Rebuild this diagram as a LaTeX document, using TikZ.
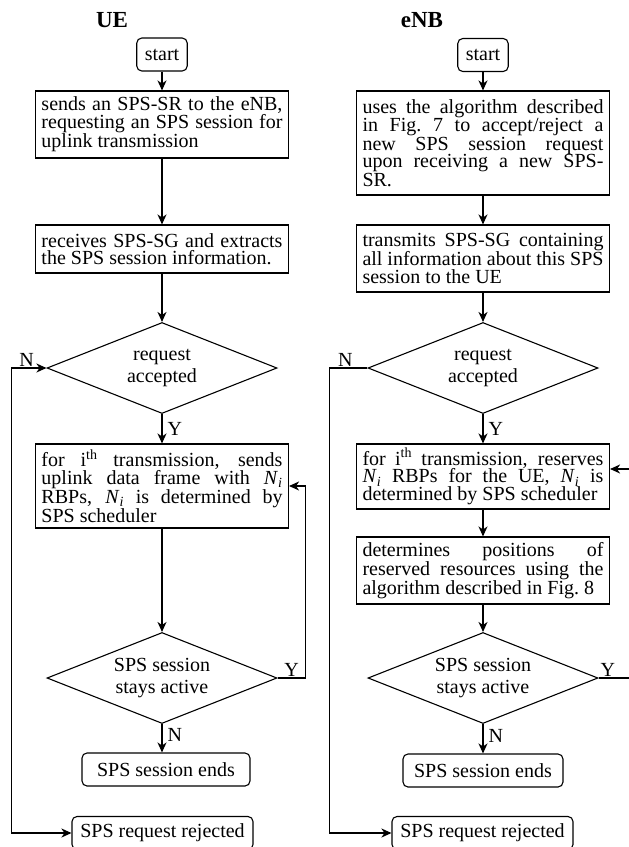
\documentclass[tikz,border=0pt]{standalone}
\usepackage{fontspec}
\setmainfont{Liberation Serif}
\usepackage{tikz}
\usetikzlibrary{arrows.meta,shapes}
\setlength{\lineskiplimit}{-20pt}
\newcommand{\Ni}{\textit{N}\textsubscript{\textit{i}}}

\begin{document}
\begin{tikzpicture}[x=1pt,y=1pt,>={Stealth[length=10pt,width=9pt,inset=3pt]},line width=1.3pt,
procbox/.style={draw,line width=1.1pt,text width=241pt,inner xsep=6pt,inner ysep=0pt,align=justify,font=\fontsize{20}{17.5}\selectfont},
decision/.style={draw,diamond,line width=1.1pt,aspect=2.5,inner sep=0pt,minimum width=230pt,minimum height=91pt,align=center,font=\fontsize{20}{22}\selectfont},
terminal/.style={draw,line width=1.1pt,rounded corners=5pt,minimum height=33pt,inner xsep=8pt,font=\fontsize{20}{22}\selectfont},
lab/.style={inner sep=1pt,font=\fontsize{20}{22}\selectfont},
ttl/.style={font=\fontsize{23}{26}\selectfont\bfseries}]
\useasboundingbox (0,0) rectangle (629,-847);
\node[ttl](ttlU) at (112,-20){UE};
\node[ttl](ttlE) at (422,-20){eNB};

\node[terminal](startU) at (162,-54.5){start};
\node[procbox,minimum height=67pt](sendU) at (162,-124.5){sends an SPS-SR to the eNB,\linebreak requesting an SPS session for\linebreak uplink transmission};
\node[procbox,minimum height=48pt](recvU) at (162,-249){receives SPS-SG and extracts\linebreak the SPS session information.};
\node[decision](accU) at (162,-368){request\\accepted};
\node[procbox,minimum height=84pt](dataU) at (162,-486){for i\textsuperscript{th} transmission, sends\linebreak uplink data frame with \Ni\linebreak RBPs, \Ni{} is determined by\linebreak SPS scheduler};
\node[decision](actU) at (162,-678){SPS session\\stays active};
\node[terminal,minimum width=168pt](endU) at (166,-769.5){SPS session ends};
\node[terminal,minimum width=181pt](rejU) at (162.5,-833){SPS request rejected};

\node[terminal](startE) at (483,-55){start};
\node[procbox,minimum height=104pt](algoE) at (483,-143){uses the algorithm described\linebreak in Fig.\ 7 to accept/reject a\linebreak new SPS session request\linebreak upon receiving a new SPS-\linebreak SR.};
\node[procbox,minimum height=67pt](grantE) at (483,-258.5){transmits SPS-SG containing\linebreak all information about this SPS\linebreak session to the UE};
\node[decision](accE) at (483,-368){request\\accepted};
\node[procbox,minimum height=65pt](resvE) at (483,-476.5){for i\textsuperscript{th} transmission, reserves\linebreak \Ni{} RBPs for the UE, \Ni{} is\linebreak determined by SPS scheduler};
\node[procbox,minimum height=67pt](posE) at (483,-570.5){determines positions of\linebreak reserved resources using the\linebreak algorithm described in Fig.\ 8};
\node[decision](actE) at (483,-678){SPS session\\stays active};
\node[terminal,minimum width=160pt](endE) at (483,-770.5){SPS session ends};
\node[terminal,minimum width=181pt](rejE) at (482.5,-833){SPS request rejected};

\draw[->](startU)--(sendU);
\draw[->](sendU)--(recvU);
\draw[->](recvU)--(accU);
\draw[->](accU)--node[lab,right=4pt](yU1){Y}(dataU);
\draw[->](dataU)--(actU);
\draw[->](actU.south)--node[lab,right=4pt,pos=.4](nU2){N}(actU.south|-endU.north);
\draw[<->](accU.west)--++(-35,0)node[lab,pos=.57,above](nU1){N}|-(rejU.west);
\draw[->](actU.east)--++(28,0)node[lab,midway,above](yU2){Y}|-(dataU.east);

\draw[->](startE)--(algoE);
\draw[->](algoE)--(grantE);
\draw[->](grantE)--(accE);
\draw[->](accE)--node[lab,right=4pt](yE1){Y}(resvE);
\draw[->](resvE)--(posE);
\draw[->](posE)--(actE);
\draw[->](actE)--node[lab,right=4pt,pos=.4](nE2){N}(endE);
\draw[->](accE.west)--++(-38,0)node[lab,pos=.58,above](nE1){N}|-(rejE.west);
\draw[->](actE.east)--++(34,0)node[lab,pos=.27,above](yE2){Y}|-([yshift=7.5pt]resvE.east);
\end{tikzpicture}
\end{document}
